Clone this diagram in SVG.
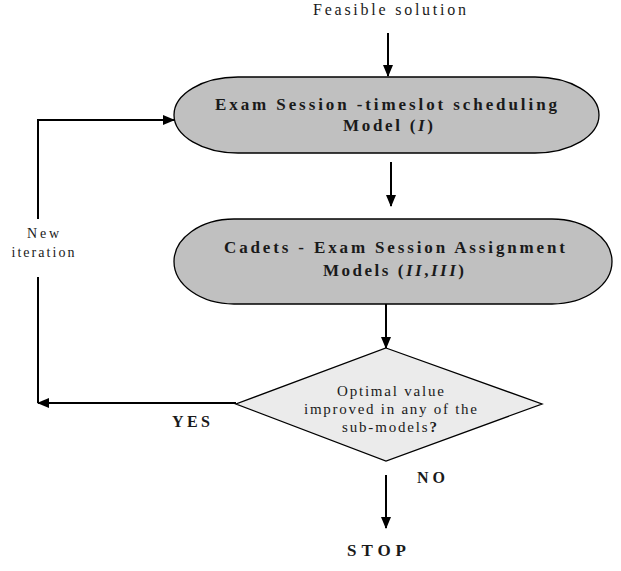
<svg xmlns="http://www.w3.org/2000/svg" width="621" height="571" viewBox="0 0 621 571">
<style>
.t{font-family:"Liberation Serif","Times New Roman",serif;fill:#1a1a1a;text-anchor:middle}
.b{font-weight:bold}
.term{fill:#c0c0c0;stroke:#000;stroke-width:1.3}
.dec{fill:#ebebeb;stroke:#000;stroke-width:1.3}
.c{fill:none;stroke:#000;stroke-width:2}
</style>
<defs>
<marker id="ah" markerUnits="userSpaceOnUse" markerWidth="12" markerHeight="10" refX="11" refY="5" orient="auto">
<path d="M0,0 L12,5 L0,10 Z" fill="#000"/>
</marker>
</defs>
<rect width="621" height="571" fill="#fff"/>
<g id="connectors">
<path class="c" d="M388,33 V76" marker-end="url(#ah)"/>
<path class="c" d="M391,162 V206" marker-end="url(#ah)"/>
<path class="c" d="M386,304 V348" marker-end="url(#ah)"/>
<path class="c" d="M386,475 V528" marker-end="url(#ah)"/>
<path class="c" d="M236,403 H38" marker-end="url(#ah)"/>
<path class="c" d="M38,403 V277"/>
<path class="c" d="M38,219 V120 H174" marker-end="url(#ah)"/>
<text class="t" x="43" y="238" font-size="14" textLength="32" lengthAdjust="spacing">New</text>
<text class="t" x="43" y="257" font-size="14" textLength="63" lengthAdjust="spacing">iteration</text>
<text class="t b" x="191" y="427" font-size="16" textLength="38" lengthAdjust="spacing">YES</text>
<text class="t b" x="431" y="483" font-size="16" textLength="28" lengthAdjust="spacing">NO</text>
</g>
<g id="start">
<text class="t" x="389.5" y="15" font-size="16" textLength="153" lengthAdjust="spacing">Feasible solution</text>
</g>
<g id="model1">
<rect class="term" x="174" y="77" width="425" height="76" rx="64" ry="38"/>
<text class="t b" x="386" y="110" font-size="17" textLength="342" lengthAdjust="spacing">Exam Session -timeslot  scheduling</text>
<text class="t b" x="388" y="131" font-size="17" textLength="90" lengthAdjust="spacing">Model (<tspan font-style="italic">I</tspan>)</text>
</g>
<g id="model2">
<rect class="term" x="174" y="219" width="438" height="85" rx="60" ry="42.5"/>
<text class="t b" x="394.5" y="253" font-size="17" textLength="341" lengthAdjust="spacing">Cadets - Exam Session Assignment</text>
<text class="t b" x="393.5" y="276" font-size="17" textLength="141" lengthAdjust="spacing">Models (<tspan font-style="italic">II</tspan>,<tspan font-style="italic">III</tspan>)</text>
</g>
<g id="decision">
<polygon class="dec" points="386,348 542,404 386,461 236,404"/>
<text class="t" x="390.5" y="396" font-size="15" textLength="107" lengthAdjust="spacing">Optimal value</text>
<text class="t" x="390.5" y="414" font-size="15" textLength="173" lengthAdjust="spacing">improved in any of the</text>
<text class="t" x="389.5" y="432" font-size="15" textLength="95" lengthAdjust="spacing">sub-models<tspan font-weight="bold">?</tspan></text>
</g>
<g id="stop">
<text class="t b" x="376.5" y="556" font-size="17" textLength="59" lengthAdjust="spacing">STOP</text>
</g>
</svg>
